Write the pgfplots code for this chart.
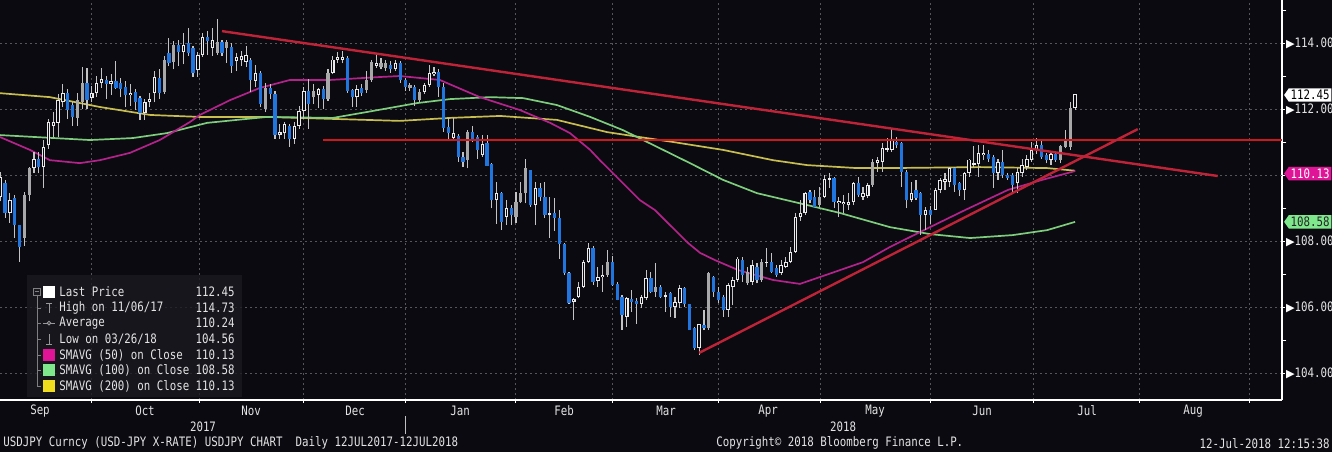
\documentclass[border=0pt]{standalone}
\usepackage{pgfplots}
\pgfplotsset{compat=1.18}
\usepackage{pgfplotstable}
\usepackage{fontspec}
\usetikzlibrary{shapes.symbols}
\newfontfamily\bb[FakeStretch=0.83]{DejaVu Sans Mono}
\newfontfamily\djv{DejaVu Sans}
\newcommand\bbf{\bb\fontsize{6.5}{7}\selectfont}
\definecolor{bg}{RGB}{11,10,16}
\definecolor{gridc}{RGB}{85,85,92}
\definecolor{wick}{RGB}{195,195,195}
\definecolor{cblue}{RGB}{32,118,222}
\definecolor{cwhite}{RGB}{235,235,235}
\definecolor{cgray}{RGB}{168,168,168}
\definecolor{smaA}{RGB}{180,35,140}
\definecolor{smaB}{RGB}{125,205,125}
\definecolor{smaC}{RGB}{200,190,80}
\definecolor{tred}{RGB}{190,35,55}
\definecolor{hred}{RGB}{205,25,30}
\definecolor{legbg}{RGB}{26,25,32}
\definecolor{txt}{RGB}{228,228,228}
\definecolor{magl}{RGB}{224,20,150}
\definecolor{grnl}{RGB}{128,232,140}
\definecolor{yell}{RGB}{240,222,30}

\pgfplotstableread{
i l bl bh h
2 108.70 108.85 109.76 109.85
4 108.10 108.48 109.30 109.40
5 107.36 107.82 108.48 108.50
9 110.05 110.25 110.50 110.70
15 111.70 111.97 112.48 112.60
16 111.50 111.75 112.12 112.20
19 112.00 112.27 112.80 113.24
23 112.30 112.76 112.88 113.00
25 112.60 112.65 112.86 113.45
26 112.35 112.60 112.80 112.95
27 112.05 112.42 112.67 112.85
29 111.97 112.20 112.52 112.60
30 111.67 111.88 112.33 112.40
34 112.30 112.50 112.95 113.20
36 113.30 113.40 113.70 114.15
38 113.30 113.73 113.94 114.10
40 113.60 113.69 113.99 114.45
41 112.98 113.08 113.84 113.90
44 113.65 114.05 114.19 114.35
47 113.60 113.71 114.04 114.10
49 113.10 113.30 113.89 114.00
53 112.53 112.88 113.50 113.55
55 112.05 112.15 113.10 113.15
57 112.30 112.45 112.65 112.75
58 111.10 111.20 112.47 112.55
61 110.86 111.10 111.48 111.55
65 111.40 112.15 112.55 112.90
68 112.00 112.30 112.60 112.70
73 112.50 112.55 113.56 113.62
74 112.07 112.37 112.58 112.62
76 112.40 112.50 112.65 112.75
82 113.10 113.20 113.33 113.45
84 112.80 112.88 113.38 113.45
85 112.55 112.68 112.88 112.95
87 112.10 112.27 112.68 112.72
92 112.37 112.68 113.13 113.20
93 111.30 111.41 112.68 112.78
94 111.06 111.26 111.46 111.72
96 110.40 110.56 111.18 111.25
97 110.25 110.40 110.56 110.70
99 111.00 111.06 111.31 111.50
100 110.50 110.76 111.14 111.20
102 110.27 110.27 110.96 111.20
103 108.99 109.24 110.33 110.35
105 108.33 108.59 109.44 109.50
107 108.48 108.79 108.99 109.10
111 109.04 109.09 110.15 110.15
113 109.20 109.34 109.60 109.75
114 108.70 108.79 109.34 109.80
116 108.30 108.70 108.85 109.30
117 107.47 107.90 108.69 108.94
118 106.97 107.02 107.90 107.95
119 106.10 106.11 107.04 107.05
124 106.67 106.77 107.80 107.85
128 106.64 106.67 107.37 107.55
129 106.20 106.21 106.70 106.75
130 105.30 105.76 106.31 106.35
132 105.86 106.16 106.23 106.52
133 105.50 106.09 106.19 106.26
136 106.41 106.46 106.87 107.07
138 106.26 106.31 106.62 106.67
140 105.70 106.00 106.41 106.46
143 106.00 106.09 106.57 106.62
144 105.30 105.30 106.09 106.10
145 104.70 104.75 105.35 105.40
147 105.30 105.35 105.45 105.90
149 106.30 106.46 106.92 106.95
150 106.11 106.21 106.46 106.60
151 105.70 105.91 106.31 106.35
155 106.77 106.97 107.42 107.52
158 106.72 106.82 107.22 107.32
161 107.02 107.07 107.37 107.63
162 106.92 106.97 107.17 107.27
169 109.14 109.24 109.50 109.55
170 109.04 109.04 109.32 109.55
174 108.99 109.19 109.90 109.95
179 109.34 109.39 109.75 109.95
187 110.81 110.91 111.01 111.16
188 109.65 110.10 110.96 111.00
189 108.99 109.24 110.10 110.15
191 109.24 109.29 109.55 109.85
192 108.18 108.79 109.44 109.50
194 108.53 108.79 108.94 109.05
199 109.50 109.70 110.20 110.25
200 109.35 109.54 109.75 109.80
206 110.40 110.50 110.65 110.75
207 109.60 110.05 110.55 110.60
209 109.90 110.00 110.40 110.75
210 109.85 109.90 110.00 110.05
211 109.44 109.70 110.00 110.05
217 110.50 110.55 110.91 111.06
218 110.35 110.45 110.62 110.66
220 110.40 110.45 110.65 110.70
}\downtab

\pgfplotstableread{
i l bl bh h
1 109.20 109.34 109.95 110.10
3 108.55 108.85 109.24 109.45
8 110.06 110.20 110.50 110.70
10 109.60 110.24 110.85 111.06
11 110.80 110.90 111.60 111.70
12 111.16 111.50 111.62 111.92
13 111.16 111.58 112.27 112.47
14 112.06 112.20 112.48 112.75
20 112.20 112.33 112.50 112.70
21 112.36 112.48 112.80 113.00
22 112.64 112.80 112.90 113.24
24 112.42 112.76 112.85 113.05
28 112.10 112.42 112.50 112.75
31 111.67 111.88 112.20 112.30
32 112.05 112.20 112.30 112.50
33 112.20 112.48 112.97 113.15
39 113.35 113.72 113.95 114.30
42 112.98 113.18 113.64 113.74
43 113.59 113.64 114.19 114.29
45 113.60 113.85 114.10 114.44
50 113.15 113.45 113.58 113.70
51 113.30 113.48 113.62 113.75
52 113.28 113.43 113.64 113.90
54 112.68 112.85 113.08 113.33
59 111.10 111.20 111.30 111.55
60 111.10 111.26 111.55 111.62
62 110.95 111.10 111.50 111.60
63 111.40 111.50 111.95 112.10
64 111.70 111.95 112.55 112.68
67 112.02 112.42 112.60 112.63
70 113.05 113.10 113.50 113.60
71 113.40 113.50 113.58 113.72
72 113.38 113.50 113.58 113.75
75 112.07 112.35 112.60 112.72
79 113.25 113.30 113.38 113.64
83 113.15 113.22 113.38 113.48
89 112.45 112.53 112.73 112.80
90 112.68 112.73 113.08 113.33
91 113.00 113.05 113.12 113.28
95 111.05 111.11 111.28 111.72
101 110.55 110.61 110.94 111.20
104 108.53 109.24 109.44 109.80
106 108.48 108.74 108.99 109.24
112 108.48 109.09 109.60 109.80
115 108.08 108.78 108.84 109.34
120 105.60 106.16 106.23 106.26
121 106.26 106.31 106.62 106.77
122 106.57 106.62 107.37 107.42
123 107.32 107.37 107.80 107.93
125 106.62 106.80 106.92 107.20
126 106.47 106.90 106.97 107.27
131 105.40 105.71 106.26 106.31
134 105.96 106.09 106.29 106.36
135 106.21 106.26 106.87 107.12
139 105.86 106.31 106.36 106.46
141 105.66 106.00 106.16 106.31
142 105.96 106.11 106.57 106.67
146 104.56 104.75 105.48 105.50
152 105.70 105.91 106.67 106.72
153 106.05 106.62 106.82 106.90
154 106.77 106.82 107.47 107.52
157 106.67 106.77 107.27 107.42
160 107.22 107.32 107.37 107.78
163 106.97 107.02 107.27 107.42
164 107.17 107.22 107.37 107.53
165 107.32 107.37 107.68 107.83
166 107.63 107.68 108.74 108.84
167 108.60 108.74 108.84 109.24
168 108.79 108.84 109.44 109.50
172 109.29 109.34 109.87 110.00
173 109.60 109.85 109.90 110.05
175 108.74 109.14 109.22 109.34
176 108.84 109.12 109.19 109.40
177 108.94 109.09 109.19 109.45
178 109.09 109.19 109.75 109.80
180 109.24 109.34 109.44 109.65
181 109.29 109.36 109.70 109.75
183 110.10 110.37 110.45 110.55
184 110.10 110.40 110.81 110.96
185 110.70 110.76 110.81 111.11
186 110.71 110.76 111.06 111.39
190 109.19 109.24 109.44 109.80
193 108.33 108.79 108.94 109.04
195 108.94 108.94 109.54 109.60
196 109.44 109.54 109.85 109.90
197 109.55 109.80 109.87 110.05
198 109.65 109.80 110.20 110.25
201 109.25 109.54 110.05 110.10
202 109.95 110.05 110.47 110.50
203 110.25 110.30 110.36 110.88
204 109.95 110.33 110.67 110.90
205 110.45 110.60 110.67 110.90
208 109.85 110.05 110.40 110.50
212 109.44 109.75 110.10 110.20
213 109.95 110.05 110.30 110.50
214 110.15 110.25 110.50 110.60
215 110.40 110.45 110.76 111.00
216 110.65 110.76 110.91 111.11
219 110.30 110.45 110.65 110.70
224 111.97 112.02 112.45 112.47
}\uptab

\pgfplotstableread{
i l bl bh h
6 107.85 108.10 109.39 109.50
7 109.20 109.39 110.20 110.25
17 111.50 111.73 112.27 112.50
18 112.00 112.20 112.80 113.27
35 112.45 112.52 113.50 113.60
37 113.20 113.42 113.94 114.06
46 113.65 113.70 114.04 114.73
48 113.40 113.85 114.04 114.10
56 111.90 112.00 112.65 112.80
66 112.15 112.35 112.55 112.75
69 112.25 112.30 113.10 113.20
77 112.50 112.58 112.88 113.15
78 112.83 112.88 113.43 113.50
80 113.20 113.28 113.38 113.55
81 113.15 113.23 113.38 113.50
86 112.55 112.65 112.72 112.80
88 112.20 112.27 112.53 112.60
98 110.20 110.45 111.31 111.36
108 108.54 108.74 109.19 109.49
109 109.14 109.19 109.44 109.80
110 109.14 109.44 110.20 110.50
127 106.92 106.97 107.37 107.73
137 106.31 106.46 106.62 107.32
148 105.30 105.35 107.02 107.05
156 106.67 106.72 107.07 107.22
159 106.77 106.82 107.37 107.47
171 109.04 109.09 109.34 109.65
182 109.65 109.70 110.40 110.50
221 110.35 110.45 110.88 110.91
222 110.81 110.86 111.06 111.36
223 110.76 110.86 112.02 112.22
}\graytab

\pgfplotsset{
  candle/.style 2 args={draw=none, mark=none, forget plot,
    error bars/.cd, y dir=plus, y explicit, error mark=none,
    error bar style={draw=#1, line width=#2}},
}

\begin{document}
\begin{tikzpicture}
\useasboundingbox (0,0) rectangle (666pt,-226pt);
\fill[bg] (0,0) rectangle (666pt,-226pt);
\begin{axis}[
  at={(0pt,0pt)}, anchor=north west,
  scale only axis, width=641pt, height=200pt,
  xmin=0.95, xmax=266.93, ymin=103.182, ymax=115.303,
  axis x line*=bottom, axis y line*=right,
  axis line style={draw=white, line width=0.75pt},
  xtick={19.83,42.24,64.02,85.18,108.0,128.1,150.1,171.1,194.1,215.3,237.3,260.1},
  xticklabel={\relax},
  ytick={104,106,108,112,114},
  extra y ticks={110}, extra y tick labels={\relax},
  minor ytick={105,107,109,111,113,115},
  tick align=outside, major tick length=1.4pt, minor tick length=2.2pt,
  tick style={draw=white, line width=0.5pt},
  xmajorgrids, ymajorgrids,
  grid style={draw=gridc, line width=0.5pt, dash pattern=on 1pt off 1.5pt},
  yticklabel style={font=\bbf, text=txt, inner sep=0.4pt},
  yticklabel={{\djv\fontsize{5.6}{6}\selectfont\color{white}▶}\pgfmathprintnumber[fixed,fixed zerofill,precision=2,assume math mode=true]{\tick}},
]
% moving averages
\addplot[smaC, line width=0.85pt] coordinates {
(0.95,112.48) (11.3,112.36) (21.7,112.06) (32.1,111.82) (42.4,111.76) (56.3,111.76)
(70.0,111.70) (83.9,111.64) (94.3,111.73) (104.7,111.79) (116.5,111.67) (126.9,111.30)
(133.7,111.15) (140.6,111.0) (151.0,110.76) (161.3,110.45) (168.4,110.30) (178.7,110.21)
(185.6,110.21) (204.3,110.24) (218.2,110.21) (224.0,110.13)};
\addplot[smaB, line width=0.85pt] coordinates {
(0.95,111.21) (19.6,111.06) (28.5,111.12) (35.6,111.27) (43.9,111.58) (56.3,111.76)
(70.0,111.73) (77.1,111.91) (87.5,112.18) (94.3,112.30) (102.6,112.36) (109.5,112.33)
(116.5,112.12) (123.4,111.76) (130.2,111.36) (137.3,110.85) (144.1,110.36) (151.0,109.85)
(158.0,109.45) (168.4,109.09) (175.2,108.85) (185.6,108.42) (193.9,108.21) (202.2,108.09)
(211.1,108.18) (218.2,108.33) (224.0,108.58)};
\addplot[smaA, line width=0.85pt] coordinates {
(0.95,111.15) (7.18,110.76) (11.3,110.45) (17.5,110.36) (21.7,110.45) (27.9,110.67)
(34.1,111.06) (40.4,111.61) (42.4,111.82) (48.7,112.27) (54.9,112.64) (61.1,112.88)
(69.4,112.88) (79.8,112.97) (83.9,113.0) (92.2,112.88) (100.5,112.36) (108.8,111.97)
(115.1,111.58) (119.2,111.27) (123.4,110.76) (125.4,110.45) (128.5,110.0) (133.7,109.24)
(136.8,108.94) (140.6,108.39) (143.7,107.94) (146.2,107.64) (149.3,107.42) (154.1,107.12)
(161.3,106.82) (166.9,106.70) (171.1,106.91) (180.0,107.36) (185.6,107.82) (193.9,108.42)
(201.2,108.94) (210.1,109.55) (217.1,109.85) (224.0,110.12)};
% wicks
\addplot[candle={wick}{0.55pt}] table[x=i, y=l, y error plus expr=\thisrow{h}-\thisrow{l}] {\downtab};
\addplot[candle={wick}{0.55pt}] table[x=i, y=l, y error plus expr=\thisrow{h}-\thisrow{l}] {\uptab};
\addplot[candle={wick}{0.55pt}] table[x=i, y=l, y error plus expr=\thisrow{h}-\thisrow{l}] {\graytab};
% bodies
\addplot[candle={cblue}{1.6pt}] table[x=i, y=bl, y error plus expr={max(\thisrow{bh}-\thisrow{bl},0.05)}] {\downtab};
\addplot[candle={cgray}{1.6pt}] table[x=i, y=bl, y error plus expr={max(\thisrow{bh}-\thisrow{bl},0.05)}] {\graytab};
\addplot[candle={cwhite}{1.7pt}] table[x=i, y=bl, y error plus expr={max(\thisrow{bh}-\thisrow{bl},0.05)}] {\uptab};
\addplot[candle={bg}{0.65pt}] table[x=i, y expr=\thisrow{bl}+0.03, y error plus expr={max(\thisrow{bh}-\thisrow{bl}-0.06,0)}] {\uptab};
% trend lines
\addplot[hred, line width=0.75pt] coordinates {(68.0,111.06) (266.93,111.06)};
\addplot[tred, line width=1.2pt] coordinates {(47.0,114.36) (253.6,109.97)};
\addplot[tred, line width=1.2pt] coordinates {(146.0,104.61) (237.0,111.39)};
\end{axis}

% right-hand value tags
\node[signal, signal to=west, signal pointer angle=110, fill=white, text=black, font=\bbf,
  inner sep=0.9pt, anchor=west] at (641.8pt,-47.5pt) {112.45};
\node[signal, signal to=west, signal pointer angle=110, fill=magl, text=white, font=\bbf,
  inner sep=0.9pt, anchor=west] at (641.8pt,-86.8pt) {110.13};
\node[signal, signal to=west, signal pointer angle=110, fill=grnl, text=black!85, font=\bbf,
  inner sep=0.9pt, anchor=west] at (641.8pt,-110.9pt) {108.58};

% month labels
\foreach \m/\x in {Sep/20,Oct/72.5,Nov/125.5,Dec/177.5,Jan/230,Feb/282,Mar/333,Apr/384,May/437.5,Jun/491,Jul/543.5,Aug/596.5}
  \node[font=\bbf, text=txt, inner sep=0pt] at (\x pt,-205.4pt) {\m};
\node[font=\bbf, text=txt, inner sep=0pt] at (101.5pt,-213.2pt) {2017};
\node[font=\bbf, text=txt, inner sep=0pt] at (421.5pt,-213.2pt) {2018};
\draw[white!75!black, line width=0.5pt] (202.6pt,-208pt) -- (202.6pt,-217pt);

% footer
\node[font=\bbf, text=txt, inner sep=0pt, anchor=west] at (1.5pt,-221.6pt) {USDJPY Curncy (USD-JPY X-RATE) USDJPY CHART\ \ Daily 12JUL2017-12JUL2018};
\node[font=\bbf, text=txt, inner sep=0pt, anchor=west] at (358pt,-221.6pt) {Copyright© 2018 Bloomberg Finance L.P.};
\node[font=\bbf, text=txt, inner sep=0pt, anchor=east] at (665pt,-221.6pt) {12-Jul-2018 12:15:38};

% legend
\fill[legbg, fill opacity=0.8] (13.5pt,-137.5pt) rectangle (121pt,-198.6pt);
\draw[gray, line width=0.4pt] (18.5pt,-148pt) -- (18.5pt,-193pt);
\foreach \yy in {-154,-161.5,-169.5,-177.5,-185,-193}
  \draw[gray, line width=0.4pt] (18.5pt,\yy pt) -- (20.5pt,\yy pt);
\draw[gray, line width=0.4pt, fill=legbg] (16.8pt,-144.2pt) rectangle (20.2pt,-147.6pt);
\draw[gray, line width=0.4pt] (17.6pt,-145.9pt) -- (19.4pt,-145.9pt);
\fill[white] (21.5pt,-143pt) rectangle (27.5pt,-149pt);
\draw[gray!80, line width=0.5pt] (23pt,-151.5pt) -- (26pt,-151.5pt) (24.5pt,-151.5pt) -- (24.5pt,-156.5pt);
\draw[gray!80, line width=0.5pt] (21.5pt,-161.5pt) -- (27.5pt,-161.5pt);
\draw[gray!80, line width=0.5pt, fill=legbg] (24.5pt,-161.5pt) circle (0.9pt);
\draw[gray!80, line width=0.5pt] (23pt,-172pt) -- (26pt,-172pt) (24.5pt,-172pt) -- (24.5pt,-167pt);
\fill[magl] (21.5pt,-174.5pt) rectangle (27.5pt,-180.5pt);
\fill[grnl] (21.5pt,-182pt) rectangle (27.5pt,-188pt);
\fill[yell] (21.5pt,-190pt) rectangle (27.5pt,-196pt);
\node[font=\bbf, text=txt, inner sep=0pt, anchor=west] at (29.5pt,-146pt) {Last Price};
\node[font=\bbf, text=txt, inner sep=0pt, anchor=east] at (117.5pt,-146pt) {112.45};
\node[font=\bbf, text=txt, inner sep=0pt, anchor=west] at (29.5pt,-154pt) {High on 11/06/17};
\node[font=\bbf, text=txt, inner sep=0pt, anchor=east] at (117.5pt,-154pt) {114.73};
\node[font=\bbf, text=txt, inner sep=0pt, anchor=west] at (29.5pt,-161.5pt) {Average};
\node[font=\bbf, text=txt, inner sep=0pt, anchor=east] at (117.5pt,-161.5pt) {110.24};
\node[font=\bbf, text=txt, inner sep=0pt, anchor=west] at (29.5pt,-169.5pt) {Low on 03/26/18};
\node[font=\bbf, text=txt, inner sep=0pt, anchor=east] at (117.5pt,-169.5pt) {104.56};
\node[font=\bbf, text=txt, inner sep=0pt, anchor=west] at (29.5pt,-177.5pt) {SMAVG (50) on Close};
\node[font=\bbf, text=txt, inner sep=0pt, anchor=east] at (117.5pt,-177.5pt) {110.13};
\node[font=\bbf, text=txt, inner sep=0pt, anchor=west] at (29.5pt,-185pt) {SMAVG (100) on Close};
\node[font=\bbf, text=txt, inner sep=0pt, anchor=east] at (117.5pt,-185pt) {108.58};
\node[font=\bbf, text=txt, inner sep=0pt, anchor=west] at (29.5pt,-193pt) {SMAVG (200) on Close};
\node[font=\bbf, text=txt, inner sep=0pt, anchor=east] at (117.5pt,-193pt) {110.13};
\end{tikzpicture}
\end{document}
